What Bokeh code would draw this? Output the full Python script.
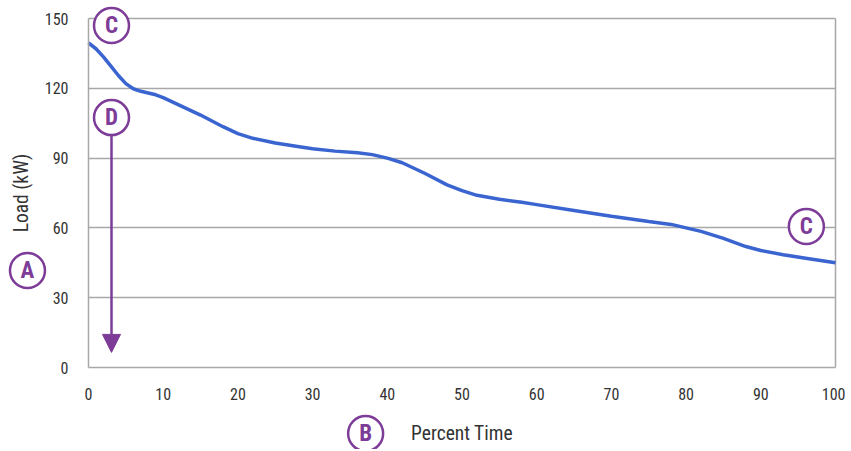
from bokeh.plotting import figure
from bokeh.models import Arrow, NormalHead, FixedTicker
from bokeh.core.properties import value
from bokeh.embed import file_html
from bokeh.resources import INLINE

# data
pct_time = [0, 1, 2, 3, 4, 5, 6, 7, 8, 9, 10, 12, 15, 18, 20, 22, 25, 28, 30, 33, 36, 38,
            40, 42, 45, 48, 50, 52, 55, 58, 60, 65, 70, 75, 78, 80, 82, 85, 88, 90, 93, 96, 100]
load_kw = [139.5, 137, 133.5, 129.5, 125.5, 122, 119.8, 118.7, 118, 117.2, 116, 113, 108.5,
           103.5, 100.5, 98.5, 96.5, 95, 94, 93, 92.3, 91.5, 90, 88, 83.5, 78.5, 76, 74,
           72.3, 71, 70, 67.5, 65, 62.8, 61.5, 60, 58.5, 55.5, 52, 50.3, 48.5, 47, 45]
y_ticks = [0, 30, 60, 90, 120, 150]
x_ticks = [0, 10, 20, 30, 40, 50, 60, 70, 80, 90, 100]

# callout markers in data units
callout_letters = ["A", "B", "C", "D", "C"]
callout_x = [-8.17, 37.1, 3.08, 3.08, 96.1]
callout_y = [41.7, -28.4, 147.0, 107.4, 60.6]
arrow_x, arrow_y0, arrow_y1 = 3.08, 99.5, 6.5

PURPLE = "#7d3c98"
GRID = "#a8a8a8"
FONT = "Roboto Condensed, Roboto"

# the frame covers the whole canvas so callouts outside the axes stay visible
p = figure(width=845, height=449, x_range=(-11.78, 101.34), y_range=(-35.24, 157.74),
           output_backend="svg", toolbar_location=None, title_location=None,
           min_border_left=0, min_border_right=0, min_border_top=0, min_border_bottom=0)
p.outline_line_color = None

for ax in (p.xaxis[0], p.yaxis[0]):
    ax.fixed_location = 0
    ax.axis_line_color = GRID
    ax.axis_line_width = 1.5
    ax.major_tick_line_color = None
    ax.minor_tick_line_color = None
    ax.major_label_text_font = FONT
    ax.major_label_text_font_size = "16px"
    ax.major_label_text_color = "#333333"
    ax.axis_label_text_font = FONT
    ax.axis_label_text_font_style = "normal"
    ax.axis_label_text_font_size = "19.5px"
    ax.axis_label_text_color = "#333333"

p.xaxis.bounds = (0, 100)
p.yaxis.bounds = (0, 150)
p.xaxis.ticker = FixedTicker(ticks=x_ticks)
p.yaxis.ticker = FixedTicker(ticks=y_ticks)
p.xaxis.major_label_standoff = 14
p.yaxis.major_label_standoff = 14
p.xaxis.axis_label = "Percent Time"
p.xaxis.axis_label_standoff = 19
p.yaxis.axis_label = "Load (kW)"
p.yaxis.axis_label_standoff = 9

p.ygrid.ticker = FixedTicker(ticks=y_ticks[1:])
p.ygrid.cross_bounds = (0, 100)
p.ygrid.grid_line_color = GRID
p.ygrid.grid_line_width = 1.5
p.xgrid.ticker = FixedTicker(ticks=[x_ticks[-1]])
p.xgrid.cross_bounds = (0, 150)
p.xgrid.grid_line_color = GRID
p.xgrid.grid_line_width = 1.5

p.line(pct_time, load_kw, line_color="#3a64d0", line_width=3.5)

p.add_layout(Arrow(end=NormalHead(size=18, fill_color=PURPLE, line_color=PURPLE),
                   x_start=arrow_x, y_start=arrow_y0, x_end=arrow_x, y_end=arrow_y1,
                   line_color=PURPLE, line_width=2.5))

p.scatter(callout_x, callout_y, marker="circle", size=35, fill_color="white",
          line_color=PURPLE, line_width=2.5)
p.text(callout_x, callout_y, text=callout_letters, text_align="center",
       text_baseline="middle", text_font=value(FONT), text_font_style="bold",
       text_font_size="23px", text_color=PURPLE)

open("out.html", "w").write(file_html(p, INLINE))
